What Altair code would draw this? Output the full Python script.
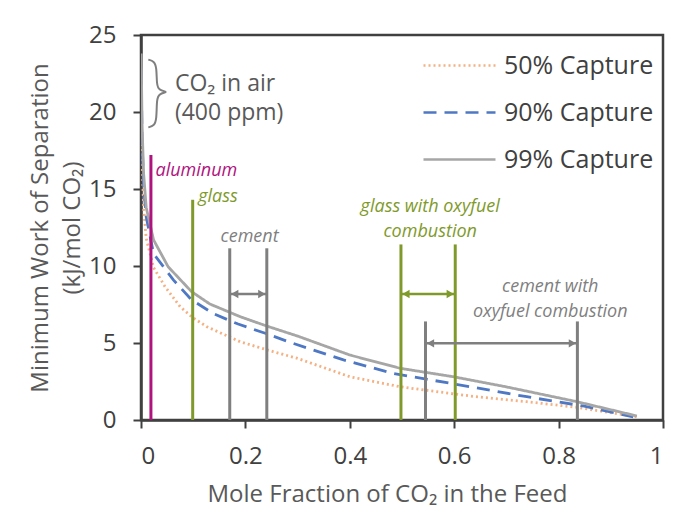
import altair as alt
import pandas as pd

# ---- curve data ----
x50 = [0.0004, 0.002, 0.005, 0.01, 0.024, 0.046, 0.075, 0.097, 0.126, 0.19, 0.253, 0.30, 0.40, 0.496, 0.63, 0.739, 0.835, 0.93, 0.95]
y50 = [21.5, 17.0, 13.8, 11.8, 9.9, 8.66, 7.36, 6.7, 6.06, 5.08, 4.44, 4.0, 2.81, 2.16, 1.56, 1.19, 0.82, 0.32, 0.2]

x90 = [0.0004, 0.002, 0.005, 0.01, 0.024, 0.062, 0.097, 0.139, 0.186, 0.238, 0.285, 0.388, 0.483, 0.586, 0.637, 0.739, 0.847, 0.943]
y90 = [22.8, 18.3, 15.2, 13.2, 10.8, 9.1, 7.8, 6.9, 6.23, 5.63, 5.05, 3.9, 3.03, 2.42, 2.12, 1.51, 0.91, 0.2]

x99 = [0.0004, 0.002, 0.005, 0.01, 0.024, 0.052, 0.097, 0.132, 0.19, 0.241, 0.30, 0.40, 0.496, 0.60, 0.70, 0.835, 0.95]
y99 = [23.8, 19.2, 16.0, 13.8, 11.7, 9.95, 8.33, 7.53, 6.71, 6.1, 5.45, 4.22, 3.36, 2.8, 2.15, 1.19, 0.26]

series_names = ["50% Capture", "90% Capture", "99% Capture"]
series_colors = ["#F4B183", "#4F78C4", "#A6A6A6"]
series_dashes = [[2, 3], [13, 8], [1, 0]]

# ---- vertical markers ----
GRAY = "#7F7F7F"
GREEN = "#7F9A2B"
MAGENTA = "#B0137E"
marker_x = [0.019, 0.099, 0.17, 0.241, 0.498, 0.602, 0.545, 0.836]
marker_top = [17.2, 14.3, 11.15, 11.15, 11.4, 11.4, 6.4, 6.4]
marker_color = [MAGENTA, GREEN, GRAY, GRAY, GREEN, GREEN, GRAY, GRAY]

# ---- arrows ----
arrow_x1 = [0.17, 0.498, 0.545]
arrow_x2 = [0.241, 0.602, 0.836]
arrow_y = [8.18, 8.18, 4.98]
arrow_color = [GRAY, GREEN, GRAY]

# ---- annotation labels (y = first text line) ----
label_text = ["aluminum", "glass", "cement", "glass with oxyfuel\ncombustion", "cement with\noxyfuel combustion"]
label_x = [0.106, 0.1475, 0.208, 0.554, 0.784]
label_y = [16.2, 14.5, 11.9, 13.83, 8.64]
label_color = [MAGENTA, GREEN, GRAY, GREEN, GRAY]

# ---- CO2 in air brace + text ----
brace_x = [0.014, 0.025, 0.030, 0.030, 0.034, 0.054, 0.034, 0.030, 0.030, 0.025, 0.014]
brace_y = [23.4, 23.3, 22.9, 21.8, 21.4, 21.3, 21.2, 20.8, 19.5, 19.1, 19.0]
air_text = ["CO₂ in air\n(400 ppm)"]
air_x = [0.065]
air_y = [21.85]

# ---- build tables ----
rows = []
for name, xs, ys in zip(series_names, [x50, x90, x99], [y50, y90, y99]):
    for i, (a, b) in enumerate(zip(xs, ys)):
        rows.append({"series": name, "x": a, "y": b, "i": i})
curves = pd.DataFrame(rows)

markers = pd.DataFrame({"x": marker_x, "top": marker_top, "c": marker_color, "zero": 0.0})
arrows = pd.DataFrame({"x1": arrow_x1, "x2": arrow_x2, "y": arrow_y, "c": arrow_color})
labels = pd.DataFrame({"x": label_x, "y": label_y, "t": label_text, "c": label_color})
brace = pd.DataFrame({"x": brace_x, "y": brace_y, "i": list(range(len(brace_x)))})
air = pd.DataFrame({"x": air_x, "y": air_y, "t": air_text})

xscale = alt.Scale(domain=[0, 1], nice=False)
yscale = alt.Scale(domain=[0, 25], nice=False)

xaxis = alt.Axis(values=[0, 0.2, 0.4, 0.6, 0.8, 1], format="~g",
                 title="Mole Fraction of CO₂ in the Feed",
                 titleY=62, titleBaseline="top", titleX=246, labelPadding=16)
yaxis = alt.Axis(values=[0, 5, 10, 15, 20, 25], format="d",
                 title=["Minimum Work of Separation", "(kJ/mol CO₂)"],
                 titleX=-89, titleLineHeight=32, labelPadding=17)

legend_props = dict(title=None, orient="none", legendX=305, legendY=17,
                    symbolType="M-3,0H3", symbolSize=576, symbolStrokeWidth=2.5,
                    labelFontSize=25, labelColor="#404040", labelFont="Open Sans",
                    rowPadding=20, labelOffset=31, padding=0)

lines = alt.Chart(curves).mark_line(strokeWidth=2.8, clip=True).encode(
    x=alt.X("x:Q", scale=xscale, axis=xaxis),
    y=alt.Y("y:Q", scale=yscale, axis=yaxis),
    color=alt.Color("series:N", scale=alt.Scale(domain=series_names, range=series_colors),
                    legend=alt.Legend(**legend_props)),
    strokeDash=alt.StrokeDash("series:N", scale=alt.Scale(domain=series_names, range=series_dashes),
                              legend=alt.Legend(**legend_props)),
    order="i:Q",
)

vlines = alt.Chart(markers).mark_rule(strokeWidth=3).encode(
    x="x:Q", y="zero:Q", y2="top:Q", color=alt.Color("c:N", scale=None)
)

arrow_lines = alt.Chart(arrows).mark_rule(strokeWidth=2.5).encode(
    x="x1:Q", x2="x2:Q", y="y:Q", color=alt.Color("c:N", scale=None)
)
left_heads = alt.Chart(arrows).mark_point(shape="triangle-left", filled=True, size=70, opacity=1, xOffset=5).encode(
    x="x1:Q", y="y:Q", color=alt.Color("c:N", scale=None)
)
right_heads = alt.Chart(arrows).mark_point(shape="triangle-right", filled=True, size=70, opacity=1, xOffset=-5).encode(
    x="x2:Q", y="y:Q", color=alt.Color("c:N", scale=None)
)

label_marks = alt.Chart(labels).mark_text(font="Open Sans", fontStyle="italic", fontSize=18,
                                          lineBreak="\n", lineHeight=25, align="center",
                                          baseline="middle").encode(
    x="x:Q", y="y:Q", text="t:N", color=alt.Color("c:N", scale=None)
)

brace_mark = alt.Chart(brace).mark_line(color="#7F7F7F", strokeWidth=2, interpolate="basis").encode(
    x="x:Q", y="y:Q", order="i:Q"
)
air_mark = alt.Chart(air).mark_text(font="Open Sans", fontSize=23, color="#595959", align="left",
                                    lineBreak="\n", lineHeight=29, baseline="middle").encode(
    x="x:Q", y="y:Q", text="t:N"
)

chart = alt.layer(lines, vlines, arrow_lines, left_heads, right_heads, label_marks, brace_mark, air_mark).properties(
    width=522, height=385,
    autosize=alt.AutoSizeParams(type="none"),
    padding={"left": 133, "top": 27, "right": 2, "bottom": 95},
).configure_view(
    stroke="#404040", strokeWidth=2.5
).configure_axis(
    grid=False, domainColor="#404040", domainWidth=2.5, tickColor="#404040", tickWidth=2,
    tickSize=8, labelFont="Open Sans", labelFontSize=24, labelColor="#404040",
    titleFont="Open Sans", titleFontSize=24, titleColor="#595959", titleFontWeight="normal"
)

chart.save("out.html", embed_options={"renderer": "svg", "actions": False})
